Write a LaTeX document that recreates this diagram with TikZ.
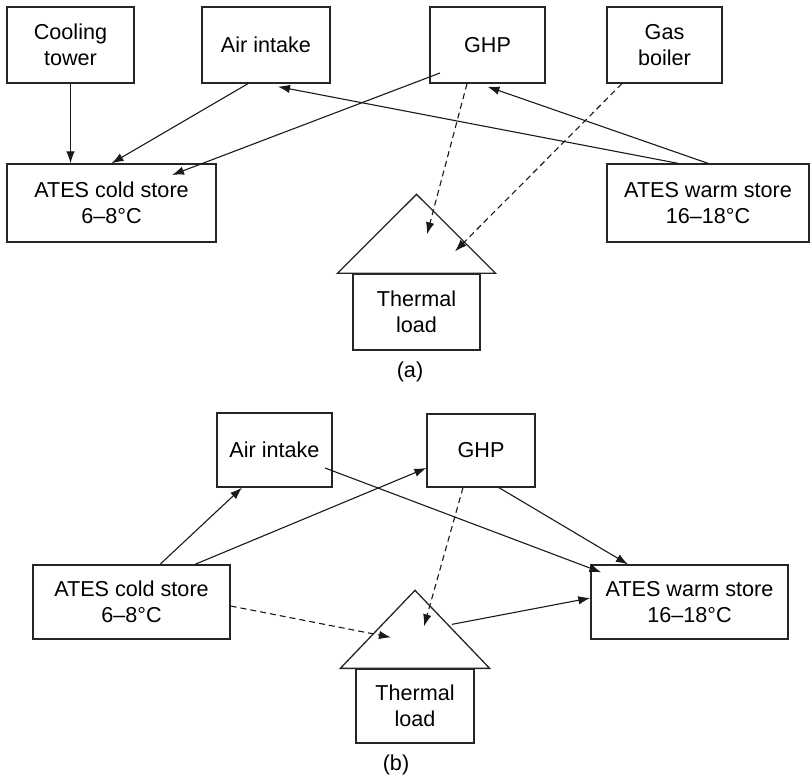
\documentclass[tikz,border=0pt]{standalone}
\usepackage{fontspec}
\setmainfont{Liberation Sans}
\usetikzlibrary{arrows.meta,positioning,calc}

\begin{document}
\begin{tikzpicture}[x=1pt, y=1pt,
        font=\fontsize{21.6}{26}\selectfont,
        box/.style={draw=black!85, line width=1.3pt, align=center, inner sep=0pt},
        flow/.style={-{Latex[length=12pt,width=8.5pt]}, line width=1.1pt, black!90},
        heat/.style={flow, dash pattern=on 6pt off 4pt}]
    \useasboundingbox (0,0) rectangle (811,780);
    % (a) top row
    \node (coolA) at (70.5,735) [box, minimum width=127, minimum height=76] {Cooling\\tower};
    \node (airA) at (266,735) [box, minimum width=128, minimum height=76] {Air intake};
    \node (ghpA) at (487.5,735) [box, minimum width=115, minimum height=76] {GHP};
    \node (boilA) at (664.5,735) [box, minimum width=115, minimum height=76] {Gas\\boiler};
    % (a) stores and load
    \node (coldA) at (111.5,577) [box, minimum width=209, minimum height=78] {ATES cold store\\6--8°C};
    \node (warmA) at (708,577) [box, minimum width=202, minimum height=78] {ATES warm store\\16--18°C};
    \node (loadA) at (416.5,468) [box, minimum width=127, minimum height=76] {Thermal\\load};
    \draw[box] ([xshift=-15]loadA.north west) -- ([yshift=79]loadA.north) -- ([xshift=15]loadA.north east) -- cycle;
    \node (capA) at (410,408) {(a)};
    % (a) flows
    \draw[flow] (coolA.south) -- (coolA.south |- coldA.north);
    \draw[flow] ([xshift=-18]airA.south) -- (coldA.north);
    \draw[flow] ([shift={(-47.5,-28)}]ghpA.center) -- ([shift={(60.5,28)}]coldA.center);
    \draw[flow] ([xshift=-30]warmA.north) -- ([xshift=12,yshift=-3]airA.south);
    \draw[flow] (warmA.north) -- ([yshift=-3]ghpA.south);
    \draw[heat] ([xshift=-20.5]ghpA.south) -- ([shift={(10.5,39)}]loadA.north);
    \draw[heat] ([xshift=-42.5]boilA.south) -- ([shift={(38.5,22)}]loadA.north);
    % (b) top row
    \node (airB) at (274.5,330) [box, minimum width=115, minimum height=74] {Air intake};
    \node (ghpB) at (481,329.5) [box, minimum width=108, minimum height=73] {GHP};
    % (b) stores and load
    \node (coldB) at (131.5,178) [box, minimum width=197, minimum height=74] {ATES cold store\\6--8°C};
    \node (warmB) at (689.5,178) [box, minimum width=197, minimum height=74] {ATES warm store\\16--18°C};
    \node (loadB) at (415,74) [box, minimum width=118, minimum height=74] {Thermal\\load};
    \draw[box] ([xshift=-15]loadB.north west) -- ([yshift=78]loadB.north) -- ([xshift=15]loadB.north east) -- cycle;
    \node (capB) at (396,15) {(b)};
    % (b) flows
    \draw[flow] ([xshift=28.5]coldB.north) -- ([xshift=-32.5]airB.south);
    \draw[flow] ([xshift=63.5]coldB.north) -- ([yshift=-17.5]ghpB.west);
    \draw[flow] ([shift={(50.5,-18)}]airB.center) -- ([shift={(11,-8)}]warmB.north west);
    \draw[flow] ([xshift=18]ghpB.south) -- ([xshift=-61.5]warmB.north);
    \draw[heat] ([xshift=-18]ghpB.south) -- ([shift={(9,42)}]loadB.north);
    \draw[heat] ([yshift=-4]coldB.east) -- ([shift={(-24,31)}]loadB.north);
    \draw[flow] ([shift={(37,44)}]loadB.north) -- ([yshift=4]warmB.west);
\end{tikzpicture}
\end{document}
